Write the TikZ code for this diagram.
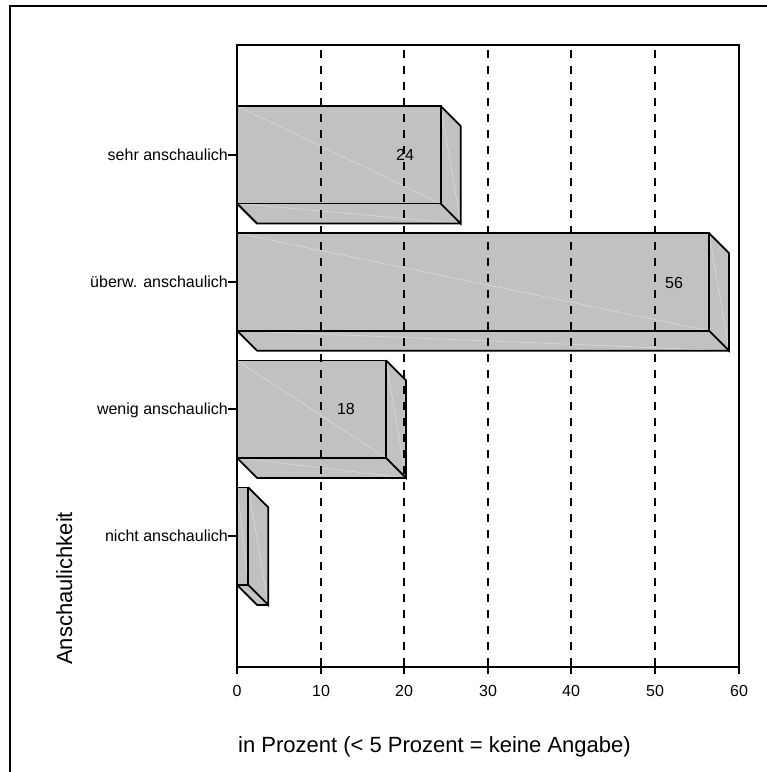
\documentclass[tikz,border=0pt]{standalone}
\usepackage{fontspec}
\setmainfont{Liberation Sans}
\newcommand{\barbox}[2]{%
  \fill[barfill] (237,#1) -- (#2,#1) -- (#2+20,#1+20) -- (#2+20,#1+117.5) -- (257,#1+117.5) -- (237,#1+97.5) -- cycle;
  \draw[seam] (237,#1) -- (#2,#1+97.5);
  \draw[seam] (#2,#1) -- (#2+20,#1+117.5);
  \draw[seam] (237,#1+97.5) -- (#2+20,#1+117.5);
  \draw[barline] (237,#1) rectangle (#2,#1+97.5);
  \draw[barline] (#2,#1) -- (#2+20,#1+20) -- (#2+20,#1+117.5) -- (#2,#1+97.5);
  \draw[barline] (237,#1+97.5) -- (257,#1+117.5) -- (#2+20,#1+117.5);
}
\begin{document}
\begin{tikzpicture}[x=1pt,y=-1pt,
  barfill/.style={fill=black!24.5},
  barline/.style={draw=black,line width=1.8pt,line join=miter},
  seam/.style={draw=white,opacity=0.4,line width=0.6pt},
  axisline/.style={draw=black,line width=2pt},
  gridline/.style={draw=black,line width=2pt,dash pattern=on 8pt off 8pt,dash phase=11pt},
  ticklab/.style={font=\fontsize{16}{18}\selectfont,anchor=base,inner sep=0pt},
  catlab/.style={font=\fontsize{16}{18}\selectfont,anchor=base east,inner sep=0pt},
  vallab/.style={font=\fontsize{16}{18}\selectfont,anchor=base,inner sep=0pt},
  titlelab/.style={font=\fontsize{22}{24}\selectfont,inner sep=0pt}]
\useasboundingbox (0,0) rectangle (767,772);
% outer frame (top and left sides visible)
\draw[line width=1.7pt] (10,772) -- (10,6) -- (767,6);
% bars
\barbox{106}{440.7}
\barbox{233.2}{709}
\barbox{360.4}{386}
\barbox{487.4}{248.3}
% plot frame
\draw[axisline] (237,45) rectangle (739,667);
% grid lines
\foreach \gx in {321,404,488,571,655}{
  \draw[gridline] (\gx,45) -- (\gx,667);
}
% bottom ticks and labels
\foreach \v/\tx [count=\i from 0] in {0/237,10/321,20/404,30/488,40/571,50/655,60/739}{
  \draw[line width=1.5pt] (\tx,667) -- (\tx,674);
  \node[ticklab] (t\i) at (\tx,696) {\v};
}
% category ticks and labels
\foreach \yc/\lab/\nm in {154.75/sehr anschaulich/c1,281.95/überw. anschaulich/c2,409.15/wenig anschaulich/c3,536.15/nicht anschaulich/c4}{
  \draw[line width=1.5pt] (228,\yc) -- (237,\yc);
  \node[catlab] (\nm) at (228,\yc+5.8) {\lab};
}
% value labels
\node[vallab] (v1) at (405,160.6) {24};
\node[vallab] (v2) at (674,288.5) {56};
\node[vallab] (v3) at (346,414) {18};
% axis titles
\node[titlelab,anchor=base west] (xt) at (238,752) {in Prozent (< 5 Prozent = keine Angabe)};
\node[titlelab,anchor=base west,rotate=90] (yt) at (72,665) {Anschaulichkeit};
\end{tikzpicture}
\end{document}
